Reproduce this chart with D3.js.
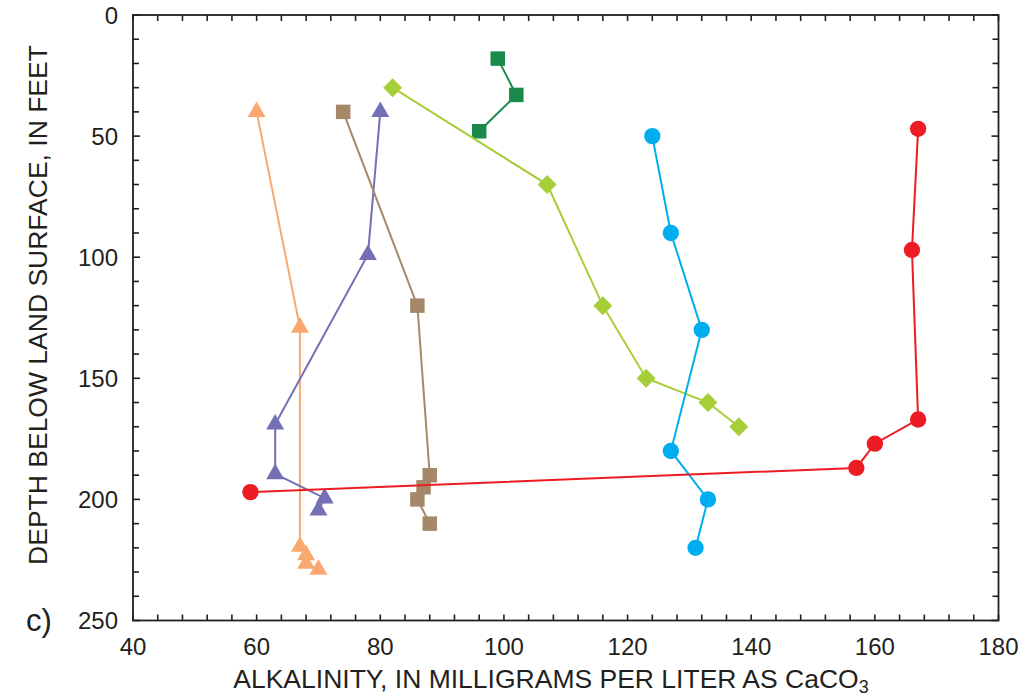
<!DOCTYPE html>
<html><head><meta charset="utf-8">
<script src="https://cdn.jsdelivr.net/npm/d3@7"></script>
<style>body{margin:0;background:#fff}text{font-family:"Liberation Sans",Arial,sans-serif;fill:#231f20}</style>
</head><body>
<svg id="c" width="1024" height="698"></svg>
<script>
const xTicks = [40, 60, 80, 100, 120, 140, 160, 180];
const yTicks = [0, 50, 100, 150, 200, 250];

const orangeX = [60, 67, 67, 68, 68, 70];
const orangeD = [40, 129, 219.5, 223, 226.5, 229];
const purpleX = [80, 78, 63, 63, 71, 70];
const purpleD = [40, 99, 169, 189.5, 199.5, 204.5];
const brownX = [74, 86, 88, 87, 86, 88];
const brownD = [40, 120, 190, 195, 200, 210];
const dkgreenX = [99, 102, 96];
const dkgreenD = [18, 33, 48];
const ygreenX = [82, 107, 116, 123, 133, 138];
const ygreenD = [30, 70, 120, 150, 160, 170];
const cyanX = [124, 127, 132, 127, 133, 131];
const cyanD = [50, 90, 130, 180, 200, 220];
const redX = [167, 166, 167, 160, 157, 59];
const redD = [47, 97, 167, 177, 187, 197];

const series = [
  {x: orangeX, d: orangeD, color: "#f9a870", shape: "triangle"},
  {x: purpleX, d: purpleD, color: "#7470b5", shape: "triangle"},
  {x: brownX, d: brownD, color: "#a58867", shape: "square"},
  {x: dkgreenX, d: dkgreenD, color: "#1a8a4c", shape: "square"},
  {x: ygreenX, d: ygreenD, color: "#a6ce39", shape: "diamond"},
  {x: cyanX, d: cyanD, color: "#00aeef", shape: "circle"},
  {x: redX, d: redD, color: "#ed1c24", shape: "circle"}
];

const L = 133, R = 998.5, T = 15, B = 620.5;
const svg = d3.select("#c");
const x = d3.scaleLinear().domain([40, 180]).range([L, R]);
const y = d3.scaleLinear().domain([0, 250]).range([T, B]);

const g = svg.append("g");
const xMinor = d3.range(40, 181, 4);
const yMinor = d3.range(0, 251, 10);
const tk = g.append("g").attr("stroke", "#231f20").attr("stroke-width", 1.6);
xMinor.forEach(v => {
  const len = 6;
  tk.append("line").attr("x1", x(v)).attr("x2", x(v)).attr("y1", B).attr("y2", B - len);
  tk.append("line").attr("x1", x(v)).attr("x2", x(v)).attr("y1", T).attr("y2", T + len);
});
yMinor.forEach(v => {
  const len = (v % 50 === 0) ? 7 : 6;
  tk.append("line").attr("y1", y(v)).attr("y2", y(v)).attr("x1", L).attr("x2", L + len);
  tk.append("line").attr("y1", y(v)).attr("y2", y(v)).attr("x1", R).attr("x2", R - len);
});
g.append("rect").attr("x", L).attr("y", T).attr("width", R - L).attr("height", B - T)
  .attr("fill", "none").attr("stroke", "#231f20").attr("stroke-width", 1.8);

g.selectAll(".xl").data(xTicks).enter().append("text")
  .attr("x", d => x(d)).attr("y", 655).attr("text-anchor", "middle")
  .attr("font-size", 24).text(d => d);
g.selectAll(".yl").data(yTicks).enter().append("text")
  .attr("x", 118).attr("y", d => y(d) + 8.5).attr("text-anchor", "end")
  .attr("font-size", 24).text(d => d);

g.append("text").attr("transform", "translate(47,305) rotate(-90)")
  .attr("text-anchor", "middle").attr("font-size", 26.5)
  .text("DEPTH BELOW LAND SURFACE, IN FEET");
const xt = g.append("text").attr("x", 551).attr("y", 688).attr("text-anchor", "middle").attr("font-size", 26.5);
xt.append("tspan").text("ALKALINITY, IN MILLIGRAMS PER LITER AS CaCO");
xt.append("tspan").attr("font-size", 18).attr("dy", 5).text("3");
g.append("text").attr("x", 26).attr("y", 631).attr("font-size", 31).text("c)");

const line = d3.line().x(p => x(p[0])).y(p => y(p[1]));
const symbols = {
  triangle: d3.symbol().type(d3.symbolTriangle).size(140),
  square: d3.symbol().type(d3.symbolSquare).size(210),
  diamond: d3.symbol().type(d3.symbolSquare).size(180),
  circle: d3.symbol().type(d3.symbolCircle).size(210)
};
series.forEach(s => {
  const pts = s.x.map((v, i) => [v, s.d[i]]);
  g.append("path").attr("d", line(pts)).attr("fill", "none")
    .attr("stroke", s.color).attr("stroke-width", 2);
  g.append("g").selectAll("path").data(pts).enter().append("path")
    .attr("d", symbols[s.shape])
    .attr("transform", p => "translate(" + x(p[0]) + "," + y(p[1]) + ")" + (s.shape === "diamond" ? " rotate(45)" : ""))
    .attr("fill", s.color);
});
</script>
</body></html>
